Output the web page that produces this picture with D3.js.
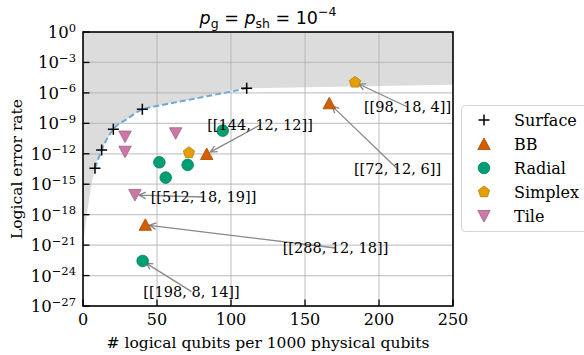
<!DOCTYPE html>
<html>
<head>
<meta charset="utf-8">
<script src="https://cdn.jsdelivr.net/npm/d3@7"></script>
<style>
  body { margin: 0; background: #fff; }
  svg text { font-family: "DejaVu Serif", serif; fill: #000; }
</style>
</head>
<body>
<div id="chart"></div>
<script>
// values
const surfaceQubits = [8.1, 12.6, 20.5, 40.1, 110.6];
const surfaceError  = [3.7e-14, 2.3e-12, 2.6e-10, 2.4e-8, 2.8e-6];

const bbQubits = [83.6, 42.1, 166.4];
const bbError  = [9.5e-13, 1e-19, 9.3e-8];

const radialQubits = [94.4, 51.6, 55.9, 70.7, 40.3];
const radialError  = [1.9e-10, 1.45e-13, 4.5e-15, 8e-14, 2.75e-23];

const simplexQubits = [71.6, 183.8];
const simplexError  = [1.26e-12, 1.1e-5];

const tileQubits = [28.4, 28.4, 62.6, 35.1];
const tileError  = [5e-11, 1.6e-12, 1.05e-10, 8.7e-17];

// edge of the shaded (unreachable) region, surface-code fit
const boundQubits = [0, 3.4, 8.1, 12.6, 20.5, 29.5, 40.1, 50, 75, 110.6, 133, 250];
const boundError  = [1e-21, 6.3e-18, 3.7e-14, 2.3e-12, 2.6e-10, 2.5e-9, 2.4e-8, 5e-8, 2.6e-7, 2.8e-6, 3.2e-6, 6.3e-6];

// code labels: text, pointed-at mark, text position
const annLabels = ["[[144, 12, 12]]", "[[72, 12, 6]]", "[[98, 18, 4]]", "[[512, 18, 19]]", "[[288, 12, 18]]", "[[198, 8, 14]]"];
const annPointX = [83.6, 166.4, 183.8, 35.1, 42.1, 40.3];
const annPointY = [9.5e-13, 9.3e-8, 1.1e-5, 8.7e-17, 1e-19, 2.75e-23];
const annTextX  = [119.6, 212.5, 219.3, 81.4, 170.6, 73.3];
const annTextY  = [6.9e-10, 3.2e-14, 4.1e-8, 5.5e-17, 5.2e-22, 2.6e-26];

const xTicks = [0, 50, 100, 150, 200, 250];
const yTickExps = [0, -3, -6, -9, -12, -15, -18, -21, -24, -27];

const svg = d3.select("#chart")
    .append("svg")
    .attr("width", 584)
    .attr("height", 355);

const xScale = d3.scaleLinear().domain([0, 250]).range([83, 453]);
const yScale = d3.scaleLog().domain([1e-27, 1]).range([306, 32]);

svg.append("clipPath").attr("id", "plot")
    .append("rect")
    .attr("x", 83).attr("y", 32).attr("width", 370).attr("height", 274);

const bound = boundQubits.map((q, i) => [xScale(q), yScale(boundError[i])]);

// shaded region above the fit
const area = d3.area()
    .x(d => d[0])
    .y0(yScale(1))
    .y1(d => d[1])
    .curve(d3.curveMonotoneX);

svg.append("path")
    .attr("clip-path", "url(#plot)")
    .attr("d", area(bound))
    .attr("fill", "#dcdcdc");

// grid
svg.append("g")
    .selectAll("line")
    .data(xTicks.slice(1, -1))
    .join("line")
    .attr("x1", d => xScale(d)).attr("x2", d => xScale(d))
    .attr("y1", 32).attr("y2", 306)
    .attr("stroke", "#b0b0b0").attr("stroke-opacity", 0.7).attr("stroke-width", 1.2);

svg.append("g")
    .selectAll("line")
    .data(yTickExps.slice(1, -1))
    .join("line")
    .attr("x1", 83).attr("x2", 453)
    .attr("y1", d => yScale(10 ** d)).attr("y2", d => yScale(10 ** d))
    .attr("stroke", "#b0b0b0").attr("stroke-opacity", 0.7).attr("stroke-width", 1.2);

// dashed surface-code curve
const fitPts = bound.filter((d, i) => boundQubits[i] >= 8.1 && boundQubits[i] <= 110.6);
svg.append("path")
    .attr("d", d3.line().curve(d3.curveMonotoneX)(fitPts))
    .attr("fill", "none")
    .attr("stroke", "#6fa8d4")
    .attr("stroke-width", 2)
    .attr("stroke-dasharray", "6,3");

// annotation arrows
const arrows = svg.append("g");
annLabels.forEach((label, i) => {
    const x0 = xScale(annTextX[i]), y0 = yScale(annTextY[i]);
    const x1 = xScale(annPointX[i]), y1 = yScale(annPointY[i]);
    const len = Math.hypot(x1 - x0, y1 - y0);
    const ux = (x1 - x0) / len, uy = (y1 - y0) / len;
    const tx = x1 - ux * 4, ty = y1 - uy * 4;
    const a = Math.atan2(uy, ux), hl = 7.5, ha = 0.45;
    const h1 = [tx - hl * Math.cos(a - ha), ty - hl * Math.sin(a - ha)];
    const h2 = [tx - hl * Math.cos(a + ha), ty - hl * Math.sin(a + ha)];
    arrows.append("path")
        .attr("d", `M${x0},${y0}L${tx},${ty}M${h1}L${tx},${ty}L${h2}`)
        .attr("fill", "none")
        .attr("stroke", "#888")
        .attr("stroke-width", 1.3);
});

// marker shapes
const plus = (x, y) => `M${x - 5.5},${y}H${x + 5.5}M${x},${y - 5.5}V${y + 5.5}`;
const triUp = (x, y) => `M${x},${y - 6}L${x + 6.2},${y + 5.5}L${x - 6.2},${y + 5.5}Z`;
const triDown = (x, y) => `M${x},${y + 6}L${x + 6.2},${y - 5.5}L${x - 6.2},${y - 5.5}Z`;
const pentagon = (x, y) => d3.range(5).map(k => {
    const t = -Math.PI / 2 + k * 2 * Math.PI / 5;
    return [x + 5.9 * Math.cos(t), y + 5.9 * Math.sin(t)];
}).map((p, k) => (k ? "L" : "M") + p).join("") + "Z";
const circle = (x, y) => `M${x - 5.8},${y}a5.8,5.8 0 1,0 11.6,0a5.8,5.8 0 1,0 -11.6,0Z`;

const series = [
    { name: "Surface", qx: surfaceQubits, qy: surfaceError, shape: plus, color: null },
    { name: "BB", qx: bbQubits, qy: bbError, shape: triUp, color: "#D55E00" },
    { name: "Radial", qx: radialQubits, qy: radialError, shape: circle, color: "#009E73" },
    { name: "Simplex", qx: simplexQubits, qy: simplexError, shape: pentagon, color: "#E69F00" },
    { name: "Tile", qx: tileQubits, qy: tileError, shape: triDown, color: "#CC79A7" }
];

const styleMark = (sel, s) => {
    if (s.color) {
        sel.attr("fill", s.color)
            .attr("stroke", d3.color(s.color).darker(0.7))
            .attr("stroke-width", 0.8);
    } else {
        sel.attr("fill", "none").attr("stroke", "#000").attr("stroke-width", 1.5);
    }
};

series.forEach(s => {
    svg.append("g")
        .selectAll("path")
        .data(s.qx.map((q, i) => [q, s.qy[i]]))
        .join("path")
        .attr("d", d => s.shape(xScale(d[0]), yScale(d[1])))
        .call(styleMark, s);
});

// labels drawn over the arrows
svg.append("g")
    .selectAll("text")
    .data(annLabels)
    .join("text")
    .attr("x", (d, i) => xScale(annTextX[i]))
    .attr("y", (d, i) => yScale(annTextY[i]))
    .attr("dy", "0.35em")
    .attr("text-anchor", "middle")
    .attr("font-size", 14.5)
    .text(d => d);

// frame and ticks
svg.append("rect")
    .attr("x", 83).attr("y", 32).attr("width", 370).attr("height", 274)
    .attr("fill", "none").attr("stroke", "#000").attr("stroke-width", 1.6);

svg.append("g")
    .selectAll("line")
    .data(xTicks)
    .join("line")
    .attr("x1", d => xScale(d)).attr("x2", d => xScale(d))
    .attr("y1", 306).attr("y2", 299.5)
    .attr("stroke", "#000").attr("stroke-width", 1.3);

svg.append("g")
    .selectAll("text")
    .data(xTicks)
    .join("text")
    .attr("x", d => xScale(d))
    .attr("y", 325)
    .attr("text-anchor", "middle")
    .attr("font-size", 16)
    .text(d => d);

svg.append("g")
    .selectAll("line")
    .data(yTickExps)
    .join("line")
    .attr("x1", 83).attr("x2", 89.5)
    .attr("y1", d => yScale(10 ** d)).attr("y2", d => yScale(10 ** d))
    .attr("stroke", "#000").attr("stroke-width", 1.3);

const yLabels = svg.append("g")
    .selectAll("text")
    .data(yTickExps)
    .join("text")
    .attr("x", 76)
    .attr("y", d => yScale(10 ** d) + 6)
    .attr("text-anchor", "end")
    .attr("font-size", 16.5);
yLabels.append("tspan").text("10");
yLabels.append("tspan")
    .attr("dy", -6.5)
    .attr("font-size", 11.5)
    .text(d => d === 0 ? "0" : "\u2212" + Math.abs(d));

// axis titles
svg.append("text")
    .attr("x", 268).attr("y", 348)
    .attr("text-anchor", "middle")
    .attr("font-size", 15.5)
    .text("# logical qubits per 1000 physical qubits");

svg.append("text")
    .attr("transform", "translate(22,169) rotate(-90)")
    .attr("text-anchor", "middle")
    .attr("font-size", 15.5)
    .text("Logical error rate");

// title p_g = p_sh = 10^-4
const title = svg.append("text")
    .attr("x", 268).attr("y", 24)
    .attr("text-anchor", "middle")
    .attr("font-size", 17.5)
    .style("font-family", "DejaVu Sans");
title.append("tspan").attr("font-style", "italic").text("p");
title.append("tspan").attr("dy", 4).attr("font-size", 12.5).text("g");
title.append("tspan").attr("dy", -4).text(" = ");
title.append("tspan").attr("font-style", "italic").text("p");
title.append("tspan").attr("dy", 4).attr("font-size", 12.5).text("sh");
title.append("tspan").attr("dy", -4).text(" = 10");
title.append("tspan").attr("dy", -8).attr("font-size", 12.5).text("\u22124");

// legend
const legend = svg.append("g");
legend.append("rect")
    .attr("x", 461.5).attr("y", 105.5).attr("width", 140).attr("height", 126)
    .attr("rx", 4)
    .attr("fill", "#fff").attr("fill-opacity", 0.8)
    .attr("stroke", "#d4d4d4");

series.forEach((s, i) => {
    const y = 120 + i * 24;
    legend.append("path")
        .attr("d", s.shape(484, y))
        .call(styleMark, s);
    legend.append("text")
        .attr("x", 514).attr("y", y + 5.5)
        .attr("font-size", 16)
        .text(s.name);
});
</script>
</body>
</html>
